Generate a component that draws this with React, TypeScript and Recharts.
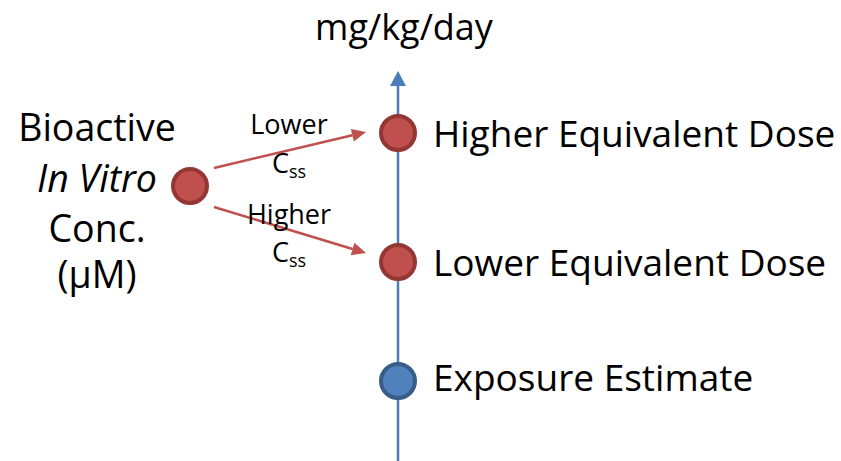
import { ScatterChart, Scatter, XAxis, YAxis, ReferenceLine } from "recharts"

// diagram laid out on a pixel-like grid (x: 0-841, y: 0-461, y grows downward)
const redDots = [
  { x: 190, y: 186 },
  { x: 398, y: 133 },
  { x: 398, y: 262 },
]
const blueDots = [{ x: 398, y: 381 }]

const doseLabels = [
  { x: 433, y: 147, text: "Higher Equivalent Dose" },
  { x: 433, y: 276, text: "Lower Equivalent Dose" },
  { x: 433, y: 391, text: "Exposure Estimate" },
]
const leftLabels = [
  { x: 97, y: 141, text: "Bioactive", italic: false },
  { x: 97, y: 192, text: "In Vitro", italic: true },
  { x: 97, y: 242, text: "Conc.", italic: false },
  { x: 97, y: 288, text: "(μM)", italic: false },
]
const arrowLabels = [
  { x: 289, y: 134, text: "Lower", sub: false },
  { x: 289, y: 173, text: "C", sub: true },
  { x: 289, y: 224, text: "Higher", sub: false },
  { x: 289, y: 262, text: "C", sub: true },
]
const titleLabel = [{ x: 404, y: 40, text: "mg/kg/day" }]

const doseAxis = [
  { x: 398, y: 461 },
  { x: 398, y: 71 },
]
const cssArrows = [
  [{ x: 214, y: 168 }, { x: 366, y: 132 }],
  [{ x: 214, y: 207 }, { x: 366, y: 253 }],
]

const FONT = "'Open Sans', sans-serif"

function Dot(props: any, fill: string, stroke: string) {
  const { cx, cy } = props
  return <circle cx={cx} cy={cy} r={17} fill={fill} stroke={stroke} strokeWidth={4} />
}

function Arrow(props: any, color: string, len: number, half: number, w: number) {
  const { x1, y1, x2, y2 } = props
  const dx = x2 - x1
  const dy = y2 - y1
  const d = Math.sqrt(dx * dx + dy * dy)
  const ux = dx / d
  const uy = dy / d
  const bx = x2 - ux * len
  const by = y2 - uy * len
  const pts = `${x2},${y2} ${bx - uy * half},${by + ux * half} ${bx + uy * half},${by - ux * half}`
  return (
    <g>
      <line x1={x1} y1={y1} x2={bx} y2={by} stroke={color} strokeWidth={w} />
      <polygon points={pts} fill={color} />
    </g>
  )
}

function Txt(props: any, size: number, anchor: string) {
  const { cx, cy, payload } = props
  return (
    <text x={cx} y={cy} fontSize={size} fontFamily={FONT} fill="#000" textAnchor={anchor}
      fontStyle={payload.italic ? "italic" : "normal"}>
      {payload.text}
      {payload.sub ? <tspan fontSize={18} dy={5}>ss</tspan> : null}
    </text>
  )
}

export default function App() {
  return (
    <div style={{ position: "absolute", left: 0, top: 0, background: "#fff" }}>
      <ScatterChart width={841} height={461} margin={{ top: 0, right: 0, bottom: 0, left: 0 }}>
        <XAxis type="number" dataKey="x" domain={[0, 841]} hide />
        <YAxis type="number" dataKey="y" domain={[0, 461]} reversed hide />
        <ReferenceLine segment={doseAxis} shape={(p: any) => Arrow(p, "#4A7EBB", 15, 8, 2.5)} />
        {cssArrows.map((seg, i) => (
          <ReferenceLine key={i} segment={seg} shape={(p: any) => Arrow(p, "#C0504D", 14, 6.5, 2.5)} />
        ))}
        <Scatter data={redDots} isAnimationActive={false} shape={(p: any) => Dot(p, "#C0504D", "#943634")} />
        <Scatter data={blueDots} isAnimationActive={false} shape={(p: any) => Dot(p, "#4F81BD", "#385D8A")} />
        <Scatter data={doseLabels} isAnimationActive={false} shape={(p: any) => Txt(p, 37, "start")} />
        <Scatter data={leftLabels} isAnimationActive={false} shape={(p: any) => Txt(p, 37.5, "middle")} />
        <Scatter data={arrowLabels} isAnimationActive={false} shape={(p: any) => Txt(p, 27, "middle")} />
        <Scatter data={titleLabel} isAnimationActive={false} shape={(p: any) => Txt(p, 36, "middle")} />
      </ScatterChart>
    </div>
  )
}
